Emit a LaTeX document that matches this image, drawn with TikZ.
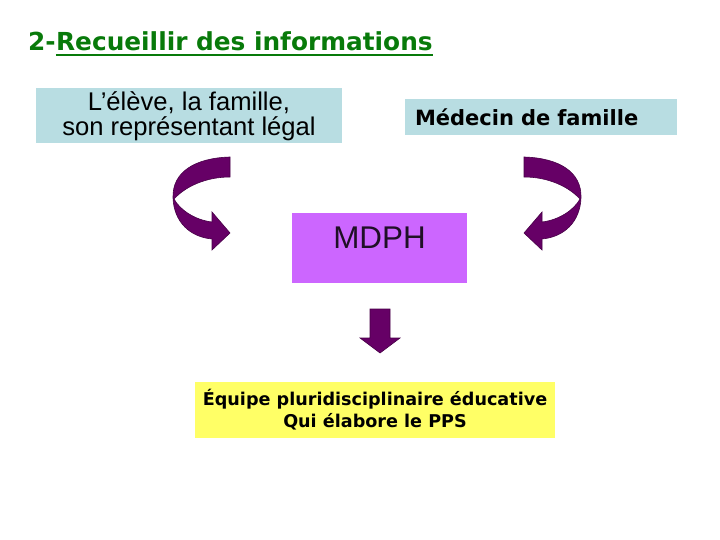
\documentclass[tikz,border=0pt]{standalone}
\usepackage{fontspec}
\setmainfont{Liberation Sans}
\newfontfamily\verdana{DejaVu Sans}
\definecolor{titlegreen}{RGB}{8,122,10}
\definecolor{boxblue}{RGB}{184,221,226}
\definecolor{boxmauve}{RGB}{204,102,255}
\definecolor{boxyellow}{RGB}{255,255,102}
\definecolor{arrowplum}{RGB}{102,0,102}
\begin{document}
\begin{tikzpicture}[x=1pt, y=-1pt,
    titre/.style={font=\verdana\bfseries\fontsize{24.8}{28}\selectfont, text=titlegreen, inner sep=0},
    bluebox/.style={fill=boxblue, inner sep=0, align=center},
    fleche/.style={fill=arrowplum, draw=arrowplum!70!black, line width=0.6pt}]
    \useasboundingbox (0,0) rectangle (720,540);

    \node[titre, anchor=base west] (titre) at (28,51) {2-};
    \node[titre, anchor=base west] (souligne) at (titre.base east) {Recueillir des informations};
    \draw[titlegreen, line width=1.6pt] ([yshift=-4pt]souligne.base west) -- ([yshift=-4pt]souligne.base east);

    \node[bluebox, minimum width=306, minimum height=55,
          font=\fontsize{25.6}{25.5}\selectfont] (eleve) at (189,116)
          {L’élève, la famille,\\son représentant légal};
    \node[bluebox, text width=252, inner xsep=10, align=left, minimum height=36,
          font=\verdana\bfseries\fontsize{21}{24}\selectfont] (medecin) at (541,117)
          {Médecin de famille};

    \node[fill=boxmauve, minimum width=175, inner ysep=0, text height=35, text depth=35,
          font=\fontsize{31.4}{34}\selectfont, text=black!85!boxmauve, anchor=base] (mdph) at (379.5,248) {MDPH};

    \node[fill=boxyellow, minimum width=360, minimum height=56, inner sep=0, align=center,
          font=\verdana\bfseries\fontsize{17.6}{22}\selectfont] (equipe) at (375,410)
          {Équipe pluridisciplinaire éducative\\Qui élabore le PPS};

    % fleches courbes
    \draw[fleche] (230,157) .. controls (195,158) and (172,172) .. (173,198)
        .. controls (174,222) and (190,237) .. (212,239)
        -- (212,250) -- (230,233) -- (212,212) -- (212,222)
        .. controls (195,220) and (180,210) .. (174,199)
        .. controls (185,187) and (205,177) .. (230,177) -- cycle;
    \begin{scope}[xshift=754, xscale=-1]
        \draw[fleche] (230,157) .. controls (195,158) and (172,172) .. (173,198)
            .. controls (174,222) and (190,237) .. (212,239)
            -- (212,250) -- (230,233) -- (212,212) -- (212,222)
            .. controls (195,220) and (180,210) .. (174,199)
            .. controls (185,187) and (205,177) .. (230,177) -- cycle;
    \end{scope}

    \draw[fleche] (370,309) -- (390,309) -- (390,338) -- (400,338) -- (380,353)
        -- (360,338) -- (370,338) -- cycle;
\end{tikzpicture}
\end{document}
